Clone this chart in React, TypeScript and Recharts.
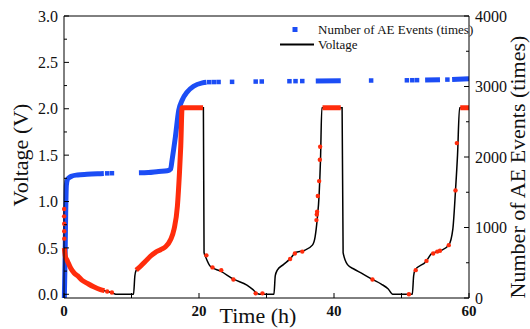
import { ComposedChart, Line, Scatter, XAxis, YAxis, ReferenceLine } from "recharts";

/* ================= DATA ================= */

// voltage curve: time (h) / voltage (V)
const voltTime = [
  0, 0.05, 0.2, 0.5, 1.0, 1.5, 2.0, 2.7, 3.4, 4.4, 5.4, 6.5, 7.3, 7.8,
  10.3, 10.5, 10.7, 11.3, 12.0, 12.8, 13.5, 14.3, 15.0, 15.8, 16.3, 16.8, 17.1, 17.3, 17.5,
  20.65, 20.75, 21.0, 21.7, 23.2, 25.2, 27.1, 28.0, 28.6, 29.0,
  31.1, 31.3, 31.6, 32.5, 33.6, 34.3, 35.5, 36.8, 37.2, 37.5, 37.8, 38.0, 38.2,
  41.2, 41.35, 42.0, 43.0, 44.0, 45.7, 47.0, 48.0, 48.7,
  51.6, 51.8, 52.0, 53.6, 54.5, 55.8, 57.0, 57.6, 58.0, 58.3, 58.6, 60,
];
const voltValue = [
  0.93, 0.5, 0.41, 0.36, 0.28, 0.23, 0.2, 0.15, 0.12, 0.08, 0.05, 0.03, 0.01, 0,
  0, 0.2, 0.26, 0.3, 0.35, 0.41, 0.45, 0.48, 0.51, 0.59, 0.7, 0.95, 1.3, 1.6, 2.01,
  2.01, 0.45, 0.4, 0.3, 0.25, 0.16, 0.1, 0.05, 0.01, 0,
  0, 0.2, 0.26, 0.32, 0.39, 0.45, 0.47, 0.53, 0.62, 0.8, 1.08, 1.45, 2.01,
  2.01, 0.45, 0.32, 0.27, 0.23, 0.16, 0.11, 0.06, 0,
  0, 0.2, 0.26, 0.35, 0.44, 0.47, 0.53, 0.7, 1.12, 1.5, 2.01, 2.01,
];

// stretches of the voltage curve dense with AE hits (null = gap)
const aeVoltTime = [
  0.05, 0.2, 0.5, 1.0, 1.5, 2.0, 2.7, 3.4, 4.4, 5.4, 6.0,
  8,
  10.7, 11.3, 12.0, 12.8, 13.5, 14.3, 15.0, 15.8, 16.3, 16.8, 17.1, 17.3, 17.5, 20.6,
  30,
  38.3, 41.0,
  50,
  58.7, 60,
];
const aeVoltValue = [
  0.5, 0.41, 0.36, 0.28, 0.23, 0.2, 0.15, 0.12, 0.08, 0.05, 0.04,
  null,
  0.26, 0.3, 0.35, 0.41, 0.45, 0.48, 0.51, 0.59, 0.7, 0.95, 1.3, 1.6, 2.01, 2.01,
  null,
  2.01, 2.01,
  null,
  2.01, 2.01,
];

// isolated AE hits on the voltage curve
const aeDotTime = [
  0.02, 0.02, 0.03, 0.03, 0.04, 6.4, 7.1,
  21.1, 22.0, 23.3, 25.1, 28.4, 29.4,
  33.5, 34.2, 35.3, 37.4, 37.45, 37.5, 37.6, 37.8, 37.9, 37.95,
  45.7, 51.1, 52.1, 53.7, 54.7, 55.3, 55.7, 57.0, 58.0, 58.2,
];
const aeDotValue = [
  0.92, 0.84, 0.76, 0.68, 0.6, 0.03, 0.02,
  0.42, 0.29, 0.26, 0.16, 0.01, 0.01,
  0.38, 0.44, 0.46, 0.8, 0.86, 0.89, 1.06, 1.22, 1.45, 1.59,
  0.16, 0.0, 0.26, 0.36, 0.44, 0.46, 0.47, 0.53, 1.12, 1.63,
];

// cumulative AE events, continuous stretches (null = gap)
const aeCountTime = [
  0.05, 0.15, 0.25, 0.35, 0.5, 0.8, 1.2, 2.0, 3.4, 5.4, 5.9,
  9,
  11.1, 12.5, 14.0, 15.3, 15.8, 16.0, 16.5, 17.0, 17.5, 18.25, 19.2, 20.5, 21.1,
  30,
  37.3, 41.0,
  50,
  53.5, 55.7,
  56,
  57.5, 60,
];
const aeCount = [
  0, 500, 1200, 1600, 1680, 1710, 1730, 1745, 1755, 1764, 1766,
  null,
  1775, 1780, 1795, 1805, 1830, 1950, 2284, 2663, 2805, 2923, 3004, 3051, 3060,
  null,
  3078, 3083,
  null,
  3092, 3096,
  null,
  3100, 3110,
];

// cumulative AE events, isolated points
const aeCountDotTime = [
  6.4, 7.1, 21.5, 22.2, 22.9, 24.9, 28.4, 29.3,
  33.4, 34.3, 35.3, 45.5, 50.8, 51.6, 52.3, 56.8,
];
const aeCountDot = [
  1768, 1770, 3062, 3063, 3064, 3066, 3070, 3071,
  3075, 3076, 3077, 3085, 3088, 3089, 3090, 3098,
];

const timeTicks = [0, 10, 20, 30, 40, 50, 60];
const voltTicks = [0, 0.25, 0.5, 0.75, 1, 1.25, 1.5, 1.75, 2, 2.25, 2.5, 2.75, 3];
const countTicks = [0, 500, 1000, 1500, 2000, 2500, 3000, 3500, 4000];

const zip = (ts: number[], ys: (number | null)[], key: string) =>
  ts.map((t, i) => ({ t, [key]: ys[i] }));

const voltData = zip(voltTime, voltValue, "v");
const aeVoltData = zip(aeVoltTime, aeVoltValue, "v");
const aeDotData = zip(aeDotTime, aeDotValue, "v");
const countData = zip(aeCountTime, aeCount, "n");
const countDotData = zip(aeCountDotTime, aeCountDot, "n");

/* ================= STYLE ================= */

const FONT = '"Liberation Serif", "Times New Roman", serif';
const BLUE = "#1c4df5";
const RED = "#ff2c0c";

/* ================= TICKS ================= */

const LeftTick = (props: any) => {
  const { x, y, payload } = props;
  const val = payload.value;
  const major = Math.abs(val * 2 - Math.round(val * 2)) < 1e-6;
  return (
    <g>
      <line x1={x} x2={x + (major ? 5 : 3)} y1={y} y2={y} stroke="#000" />
      {major && (
        <text x={x - 6} y={y} dy="0.35em" textAnchor="end" fontFamily={FONT} fontSize={16} fill="#111">
          {val.toFixed(1)}
        </text>
      )}
    </g>
  );
};

const RightTick = (props: any) => {
  const { x, y, payload } = props;
  const val = payload.value;
  const major = val % 1000 === 0;
  return (
    <g>
      <line x1={x} x2={x - (major ? 5 : 3)} y1={y} y2={y} stroke="#000" />
      {major && (
        <text x={x + 6} y={y} dy="0.35em" textAnchor="start" fontFamily={FONT} fontSize={16} fill="#111">
          {val}
        </text>
      )}
    </g>
  );
};

const BottomTick = (props: any) => {
  const { x, y, payload } = props;
  const val = payload.value;
  const major = val % 20 === 0;
  return (
    <g>
      <line x1={x} x2={x} y1={y} y2={y - 5} stroke="#000" />
      {major && (
        <text x={x} y={y + 13} dy="0.35em" textAnchor="middle" fontFamily={FONT} fontSize={15} fontWeight="bold" fill="#111">
          {val}
        </text>
      )}
    </g>
  );
};

const square = (color: string, s: number) => (p: any) =>
  <rect x={p.cx - s / 2} y={p.cy - s / 2} width={s} height={s} fill={color} />;

const dot = (color: string, r: number) => (p: any) =>
  <circle cx={p.cx} cy={p.cy} r={r} fill={color} />;

/* ================= CHART ================= */

export default function App() {
  return (
    <div style={{ position: "absolute", left: 0, top: 0, width: 530, height: 329, background: "#fff" }}>
      <ComposedChart width={530} height={329} margin={{ top: 16, right: 0, bottom: 0, left: 0 }}>
        <XAxis
          type="number"
          dataKey="t"
          domain={[0, 60]}
          ticks={timeTicks}
          height={31}
          tickSize={0}
          tickMargin={0}
          tickLine={false}
          axisLine={{ stroke: "#000" }}
          tick={BottomTick}
        />
        <YAxis
          yAxisId="v"
          type="number"
          domain={[-0.04, 3]}
          ticks={voltTicks}
          width={64}
          tickSize={0}
          tickMargin={0}
          tickLine={false}
          axisLine={{ stroke: "#000" }}
          tick={LeftTick}
        />
        <YAxis
          yAxisId="n"
          orientation="right"
          type="number"
          domain={[0, 4000]}
          ticks={countTicks}
          width={61}
          tickSize={0}
          tickMargin={0}
          tickLine={false}
          axisLine={{ stroke: "#000" }}
          tick={RightTick}
        />
        <ReferenceLine yAxisId="v" y={3} stroke="#000" />

        <Line
          yAxisId="v"
          data={voltData}
          dataKey="v"
          type="monotone"
          stroke="#000"
          strokeWidth={1.5}
          dot={false}
          activeDot={false}
          isAnimationActive={false}
        />
        <Line
          yAxisId="n"
          data={countData}
          dataKey="n"
          type="monotone"
          stroke={BLUE}
          strokeWidth={5}
          dot={false}
          activeDot={false}
          connectNulls={false}
          isAnimationActive={false}
        />
        <Scatter
          yAxisId="n"
          data={countDotData}
          dataKey="n"
          shape={square(BLUE, 4.5)}
          isAnimationActive={false}
        />
        <Line
          yAxisId="v"
          data={aeVoltData}
          dataKey="v"
          type="monotone"
          stroke={RED}
          strokeWidth={5}
          dot={false}
          activeDot={false}
          connectNulls={false}
          isAnimationActive={false}
        />
        <Scatter
          yAxisId="v"
          data={aeDotData}
          dataKey="v"
          shape={dot(RED, 2.2)}
          isAnimationActive={false}
        />
      </ComposedChart>

      {/* titles + legend */}
      <svg
        width={530}
        height={329}
        style={{ position: "absolute", left: 0, top: 0, pointerEvents: "none" }}
        fontFamily={FONT}
      >
        <text x={20} y={155} transform="rotate(-90 20 155)" textAnchor="middle" dy="0.35em" fontSize={22} fill="#111">
          Voltage (V)
        </text>
        <text x={258} y={315} textAnchor="middle" dy="0.35em" fontSize={22} fill="#111">
          Time (h)
        </text>
        <text x={517} y={167} transform="rotate(-90 517 167)" textAnchor="middle" dy="0.35em" fontSize={22} fill="#111">
          Number of AE Events (times)
        </text>

        <rect x={292.5} y={27} width={5} height={5} fill={BLUE} />
        <text x={318} y={29.5} dy="0.35em" fontSize={13} fill="#111">
          Number of AE Events (times)
        </text>
        <line x1={280} x2={314} y1={44.5} y2={44.5} stroke="#000" strokeWidth={2} />
        <text x={318} y={44} dy="0.35em" fontSize={13} fill="#111">
          Voltage
        </text>
      </svg>
    </div>
  );
}
